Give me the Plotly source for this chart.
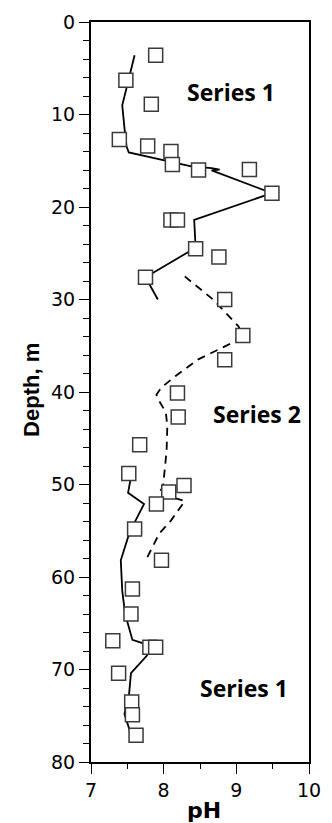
import plotly.graph_objects as go

# Observed pH values (open squares)
obs_ph = [7.89, 7.48, 7.83, 7.39, 7.78, 8.10, 8.12, 8.48, 9.18, 9.49, 8.10, 8.19,
          8.44, 8.76, 7.75, 8.84, 9.09, 8.84, 8.19, 8.20, 7.67, 7.52, 8.28, 8.07,
          7.90, 7.60, 7.97, 7.57, 7.55, 7.30, 7.81, 7.89, 7.38, 7.56, 7.57, 7.62]
obs_depth = [3.6, 6.3, 8.9, 12.7, 13.4, 14.0, 15.4, 16.0, 15.95, 18.5, 21.4, 21.4,
             24.5, 25.4, 27.6, 30.0, 33.9, 36.5, 40.1, 42.7, 45.7, 48.8, 50.1, 50.8,
             52.1, 54.8, 58.2, 61.3, 64.0, 66.9, 67.6, 67.6, 70.4, 73.5, 74.9, 77.1]

# Series 1 (upper) model line
s1u_ph = [7.60, 7.54, 7.43, 7.47, 7.49, 7.52, 8.01, 8.38, 8.66, 8.77, 8.66, 9.49,
          8.42, 8.44, 7.75, 7.92]
s1u_depth = [3.6, 5.6, 9.0, 12.2, 13.5, 14.1, 15.0, 15.6, 15.8, 15.95, 16.05, 18.5,
             21.4, 24.4, 27.6, 30.0]

# Series 2 model line (dashed)
s2_ph = [8.29, 8.68, 9.03, 9.08, 8.99, 8.47, 8.16, 7.97, 7.90, 7.94, 8.03, 8.05,
         8.04, 7.99, 7.93, 8.29, 8.10, 7.94, 7.76]
s2_depth = [27.5, 30.0, 32.9, 33.8, 34.5, 36.5, 38.3, 39.5, 40.3, 41.0, 42.2, 43.7,
            46.4, 50.3, 50.9, 51.8, 53.9, 55.3, 58.1]

# Series 1 (lower) model line
s1l_ph = [7.53, 7.54, 7.51, 7.73, 7.60, 7.59, 7.51, 7.41, 7.43, 7.47, 7.57, 7.73,
          7.81, 7.77, 7.55, 7.52, 7.46, 7.53, 7.54]
s1l_depth = [48.8, 49.6, 50.9, 52.1, 54.1, 54.8, 55.7, 58.2, 61.5, 64.0, 66.8, 67.2,
             67.6, 68.5, 70.4, 73.0, 74.8, 76.5, 77.3]

x_ticks = [7, 8, 9, 10]
y_ticks = [0, 10, 20, 30, 40, 50, 60, 70, 80]

fig = go.Figure()
fig.add_trace(go.Scatter(x=s1u_ph, y=s1u_depth, mode="lines",
                         line=dict(color="black", width=1.8), showlegend=False))
fig.add_trace(go.Scatter(x=s1l_ph, y=s1l_depth, mode="lines",
                         line=dict(color="black", width=1.8), showlegend=False))
fig.add_trace(go.Scatter(x=s2_ph, y=s2_depth, mode="lines",
                         line=dict(color="black", width=1.8, dash="8px,6px"),
                         showlegend=False))
fig.add_trace(go.Scatter(x=obs_ph, y=obs_depth, mode="markers",
                         marker=dict(symbol="square", size=14, color="white",
                                     line=dict(color="#3a3a3a", width=1.5)),
                         showlegend=False))

tickfont = dict(family="DejaVu Sans", size=19, color="black")
fig.update_xaxes(range=[7, 10], tickvals=x_ticks, ticks="outside", ticklen=10,
                 tickwidth=1, tickcolor="black", showline=True, mirror=True,
                 linecolor="black", linewidth=2, showgrid=False, zeroline=False,
                 tickfont=tickfont,
                 minor=dict(dtick=0.5, ticks="outside", ticklen=5, tickcolor="black"))
fig.update_yaxes(range=[80, 0], tickvals=y_ticks, ticks="outside", ticklen=10,
                 tickwidth=1, tickcolor="black", showline=True, mirror=True,
                 linecolor="black", linewidth=2, showgrid=False, zeroline=False,
                 tickfont=tickfont,
                 minor=dict(dtick=2, ticks="outside", ticklen=6, tickcolor="black"))

lab_font = dict(family="Open Sans", size=23, color="black", weight="bold")
ann = [
    dict(x=8.93, y=7.6, text="Series 1"),
    dict(x=9.29, y=42.4, text="Series 2"),
    dict(x=9.10, y=72.0, text="Series 1"),
]
for a in ann:
    fig.add_annotation(x=a["x"], y=a["y"], text=a["text"], showarrow=False,
                       font=lab_font, xanchor="center", yanchor="middle")

fig.add_annotation(xref="paper", yref="paper", x=-0.27, y=0.503, text="Depth, m",
                   textangle=-90, showarrow=False, xanchor="center", yanchor="middle",
                   font=dict(family="Liberation Sans", size=22, color="black",
                             weight="bold"))
fig.add_annotation(xref="paper", yref="paper", x=0.517, y=-0.066, text="pH",
                   showarrow=False, xanchor="center", yanchor="middle",
                   font=dict(family="DejaVu Sans", size=22, color="black", weight="bold"))

fig.update_layout(width=332, height=823, margin=dict(l=91, r=11, t=20, b=61),
                  paper_bgcolor="white", plot_bgcolor="white")
fig.write_html("out.html")
